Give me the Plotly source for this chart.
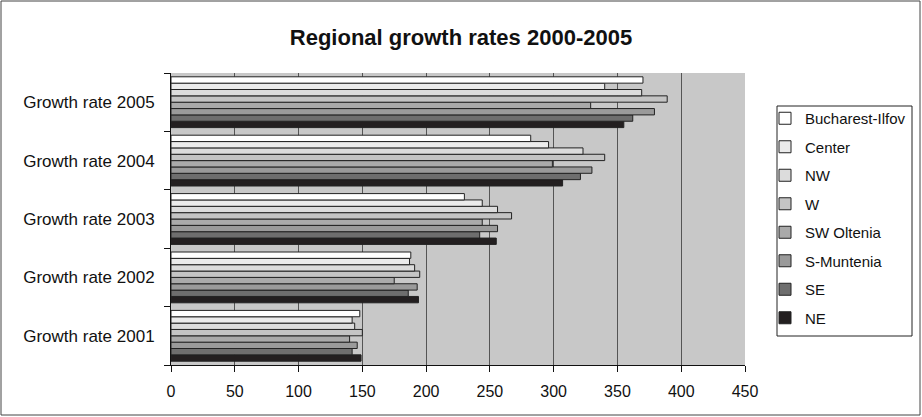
import plotly.graph_objects as go

categories = ["Growth rate 2001", "Growth rate 2002", "Growth rate 2003", "Growth rate 2004", "Growth rate 2005"]
series_names = ["Bucharest-Ilfov", "Center", "NW", "W", "SW Oltenia", "S-Muntenia", "SE", "NE"]
series_colors = ["#FFFFFF", "#EBEBEB", "#DCDCDC", "#C4C4C4", "#AAAAAA", "#9A9A9A", "#6E6E6E", "#231F20"]

bucharest = [148, 188, 230, 282, 370]
center = [142, 187, 244, 296, 340]
nw = [144, 191, 256, 323, 369]
w = [150, 195, 267, 340, 389]
sw_oltenia = [140, 175, 244, 299, 329]
s_muntenia = [146, 193, 256, 330, 379]
se = [142, 186, 242, 321, 362]
ne = [149, 194, 255, 307, 355]

values = [bucharest, center, nw, w, sw_oltenia, s_muntenia, se, ne]
x_ticks = [0, 50, 100, 150, 200, 250, 300, 350, 400, 450]

fig = go.Figure()
# add in reverse so NE sits at the bottom of each group
for rank, (name, col, vals) in reversed(list(enumerate(zip(series_names, series_colors, values)))):
    fig.add_trace(go.Bar(
        y=categories, x=vals, name=name, orientation="h",
        marker=dict(color=col, line=dict(color="#222222", width=1)),
        legendgroup=name, legendrank=rank + 1,
    ))

L, R, T, B = 171, 177, 73, 52
W_, H_ = 922, 417
pw, ph = W_ - L - R, H_ - T - B


def px_x(p):
    return (p - L) / pw


def px_y(p):
    return (H_ - B - p) / ph


fig.update_layout(
    width=W_, height=H_,
    margin=dict(l=L, r=R, t=T, b=B, autoexpand=False),
    barmode="group", bargap=0.13, bargroupgap=0,
    paper_bgcolor="white", plot_bgcolor="#C8C8C8",
    font=dict(family="Liberation Sans, Arial, sans-serif", size=15, color="#111111"),
    title=dict(text="<b>Regional growth rates 2000-2005</b>", x=0.5, xanchor="center",
               y=1 - 37 / H_, yanchor="middle", font=dict(size=22, color="#111111")),
    showlegend=True,
    legend=dict(x=px_x(765), xanchor="left", y=px_y(102), yanchor="top",
                borderwidth=0, bgcolor="rgba(0,0,0,0)",
                traceorder="grouped", tracegroupgap=6, itemwidth=30,
                font=dict(size=15)),
    xaxis=dict(range=[0, 450], tickvals=x_ticks, showgrid=True, gridcolor="#555555", gridwidth=1,
               showline=True, linecolor="#111111", linewidth=1, ticks="outside", ticklen=6,
               tickcolor="#111111", zeroline=False, fixedrange=True, ticklabelstandoff=6,
               tickfont=dict(size=16)),
    yaxis=dict(categoryorder="array", categoryarray=categories, showline=True, linecolor="#111111",
               linewidth=1, ticks="outside", ticklen=6, tickson="boundaries", tickcolor="#111111",
               showgrid=False, tickfont=dict(size=17), ticklabelstandoff=12),
    shapes=[
        dict(type="rect", xref="paper", yref="paper",
             x0=px_x(1), x1=px_x(W_ - 2), y0=px_y(H_ - 2), y1=px_y(1),
             line=dict(color="#444444", width=1), fillcolor="rgba(0,0,0,0)", layer="below"),
        dict(type="rect", xref="paper", yref="paper",
             x0=px_x(777), x1=px_x(912), y0=px_y(336), y1=px_y(106),
             line=dict(color="#222222", width=1), fillcolor="white", layer="below"),
    ],
)

fig.write_html("out.html")
